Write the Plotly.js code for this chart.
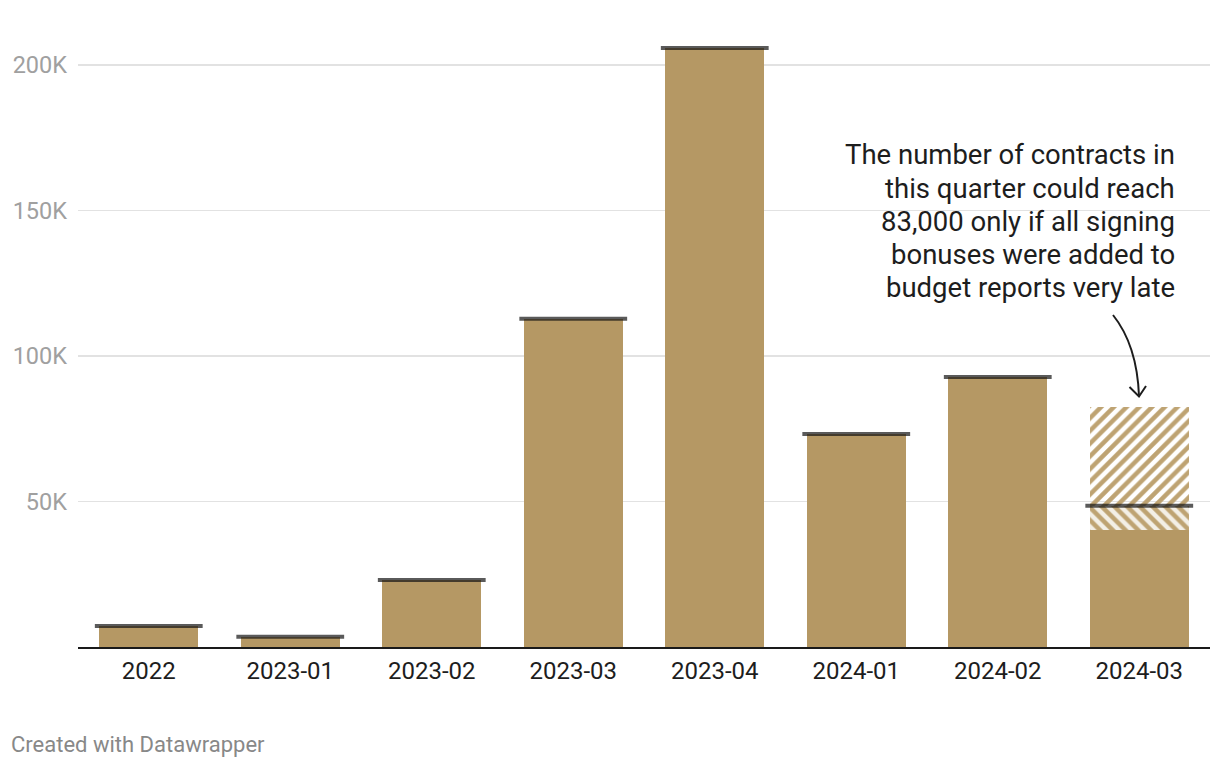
<!DOCTYPE html>
<html>
<head>
<meta charset="utf-8">
<script src="https://cdn.plot.ly/plotly-3.0.1.min.js"></script>
<style>
  html, body { margin: 0; padding: 0; background: #ffffff; }
  #chart { width: 1220px; height: 768px; }
</style>
</head>
<body>
<div id="chart"></div>
<script>
// ---- data ----
const categories = ["2022", "2023-01", "2023-02", "2023-03", "2023-04", "2024-01", "2024-02", "2024-03"];
const confirmedValues = [7200, 3500, 23000, 112800, 205800, 73200, 92800, 40200];
const reportedValues = [7200, 3500, 23000, 112800, 205800, 73200, 92800, 48500];
const potentialValues = [null, null, null, null, null, null, null, 82600];
const yTickVals = [50000, 100000, 150000, 200000];
const yTickText = ["50K", "100K", "150K", "200K"];
const noteLines = [
  "The number of contracts in",
  "this quarter could reach",
  "83,000 only if all signing",
  "bonuses were added to",
  "budget reports very late"
];
const footerText = "Created with Datawrapper";

// ---- derived ----
const lateReported = reportedValues.map((r, i) => potentialValues[i] == null ? null : r - confirmedValues[i]);
const lateUpper = potentialValues.map((p, i) => p == null ? null : p - reportedValues[i]);

const barColor = "#b59864";
const hatchColor = "#bea372";

// pixel helpers for decorative shapes / text placement
const W = 1220, H = 768, mL = 78, mR = 10, mT = 30, mB = 121;
const pw = W - mL - mR, ph = H - mT - mB;
const px = x => (x - mL) / pw;
const py = y => (H - mB - y) / ph;

const traces = [
  {
    type: "bar", x: categories, y: confirmedValues,
    marker: { color: barColor }, hoverinfo: "skip", showlegend: false
  },
  {
    type: "bar", x: categories, y: lateReported,
    marker: { color: hatchColor, pattern: { shape: "\\", fgcolor: hatchColor, bgcolor: "#f3efe6", size: 9, solidity: 0.5, fillmode: "replace" } },
    hoverinfo: "skip", showlegend: false
  },
  {
    type: "bar", x: categories, y: lateUpper,
    marker: { color: hatchColor, pattern: { shape: "/", fgcolor: hatchColor, bgcolor: "rgba(255,255,255,0)", size: 9, solidity: 0.5, fillmode: "replace" } },
    hoverinfo: "skip", showlegend: false
  },
  {
    type: "scatter", mode: "markers", x: categories, y: reportedValues,
    marker: { symbol: "line-ew", size: 77, color: "rgba(20,20,20,0.7)", line: { width: 4, color: "rgba(20,20,20,0.7)" } },
    hoverinfo: "skip", showlegend: false, cliponaxis: false
  }
];

const arrowPath = "M " + px(1113) + " " + py(315) + " Q " + px(1137) + " " + py(345) + " " + px(1139) + " " + py(396);
const headPath = "M " + px(1129.5) + " " + py(387) + " L " + px(1139) + " " + py(396.5) + " L " + px(1146) + " " + py(386);

const annotations = noteLines.map((t, i) => ({
  xref: "paper", yref: "paper", x: px(1177), y: py(155 + i * 33.2),
  xanchor: "right", yanchor: "middle", align: "right",
  text: t, showarrow: false,
  font: { family: "Roboto", size: 27.5, color: "#1d1d1d" }
}));
annotations.push({
  xref: "paper", yref: "paper", x: px(9), y: py(744),
  xanchor: "left", yanchor: "middle", align: "left",
  text: footerText, showarrow: false,
  font: { family: "Roboto", size: 22, color: "#888888" }
});

const layout = {
  width: W, height: H,
  margin: { l: mL, r: mR, t: mT, b: mB, pad: 0 },
  paper_bgcolor: "#ffffff", plot_bgcolor: "#ffffff",
  font: { family: "Roboto, 'Liberation Sans', sans-serif", size: 22, color: "#222" },
  barmode: "stack",
  bargap: 0.3,
  showlegend: false,
  xaxis: {
    type: "category", automargin: false,
    range: [-0.5, categories.length - 0.5],
    showgrid: false, zeroline: false,
    showline: true, linecolor: "#1a1a1a", linewidth: 2,
    ticks: "", ticklabelstandoff: 1,
    tickfont: { family: "Roboto", size: 24, color: "#1d1d1d" },
    fixedrange: true
  },
  yaxis: {
    range: [0, 212000], automargin: false,
    tickvals: yTickVals, ticktext: yTickText,
    showgrid: true, gridcolor: "#e2e2e2", gridwidth: 1.5,
    zeroline: false, showline: false,
    ticks: "", ticklabelstandoff: 10,
    tickfont: { family: "Roboto", size: 23.5, color: "#a0a0a0" },
    fixedrange: true
  },
  shapes: [
    { type: "path", xref: "paper", yref: "paper", path: arrowPath, line: { color: "#1d1d1d", width: 2 } },
    { type: "path", xref: "paper", yref: "paper", path: headPath, line: { color: "#1d1d1d", width: 2 } }
  ],
  annotations: annotations
};

Plotly.newPlot("chart", traces, layout, { staticPlot: true, displayModeBar: false });
</script>
</body>
</html>
